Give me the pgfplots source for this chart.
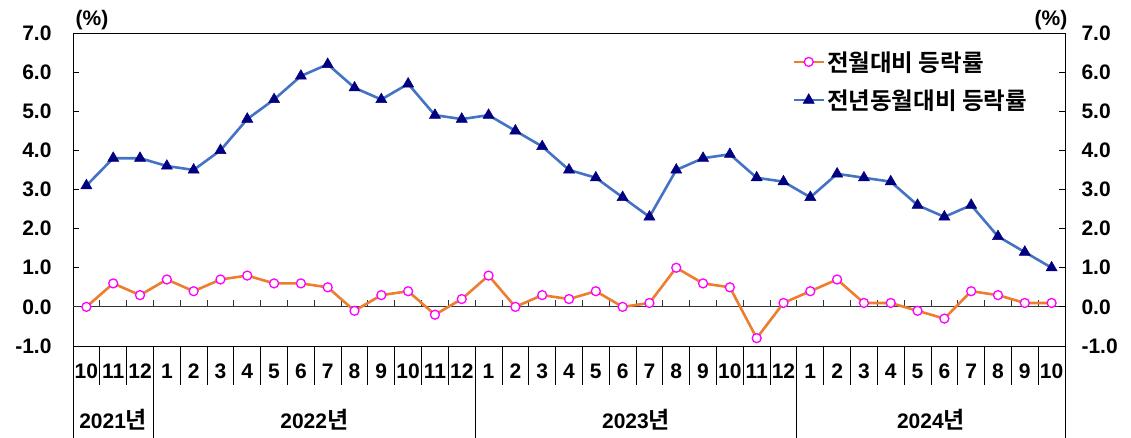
\documentclass[border=0pt]{standalone}
\usepackage{fontspec}
\setmainfont{Liberation Sans}
\newfontfamily\kr{Noto Sans CJK KR}[BoldFont={Noto Sans CJK KR Bold}]
\usepackage{pgfplots}
\usepackage{pgfplotstable}
\pgfplotsset{compat=1.18}
\definecolor{orangeline}{HTML}{ED7D31}
\definecolor{blueline}{HTML}{4472C4}
\definecolor{navy}{HTML}{000080}
\definecolor{mag}{HTML}{FF00FF}

\pgfplotstableread{
x mom yoy
0.5 0.0 3.1
1.5 0.6 3.8
2.5 0.3 3.8
3.5 0.7 3.6
4.5 0.4 3.5
5.5 0.7 4.0
6.5 0.8 4.8
7.5 0.6 5.3
8.5 0.6 5.9
9.5 0.5 6.2
10.5 -0.1 5.6
11.5 0.3 5.3
12.5 0.4 5.7
13.5 -0.2 4.9
14.5 0.2 4.8
15.5 0.8 4.9
16.5 0.0 4.5
17.5 0.3 4.1
18.5 0.2 3.5
19.5 0.4 3.3
20.5 0.0 2.8
21.5 0.1 2.3
22.5 1.0 3.5
23.5 0.6 3.8
24.5 0.5 3.9
25.5 -0.8 3.3
26.5 0.1 3.2
27.5 0.4 2.8
28.5 0.7 3.4
29.5 0.1 3.3
30.5 0.1 3.2
31.5 -0.1 2.6
32.5 -0.3 2.3
33.5 0.4 2.6
34.5 0.3 1.8
35.5 0.1 1.4
36.5 0.1 1.0
}\datatable

\newcommand{\numfont}{\bfseries\fontsize{21}{25}\selectfont}

\begin{document}
\begin{tikzpicture}
\useasboundingbox (0,0) rectangle (1131pt,438pt);
\begin{axis}[
  at={(73pt,92pt)}, anchor=south west,
  scale only axis, width=992pt, height=313pt,
  xmin=0, xmax=37, ymin=-1, ymax=7,
  clip=false,
  axis line style={black, line width=0.9pt},
  xtick=data,
  xticklabels={10,11,12,1,2,3,4,5,6,7,8,9,10,11,12,1,2,3,4,5,6,7,8,9,10,11,12,1,2,3,4,5,6,7,8,9,10},
  xtick style={draw=none},
  xticklabel style={anchor=base, yshift=-33pt, font=\numfont},
  ytick={-1,0,1,2,3,4,5,6,7},
  yticklabels={-1.0,0.0,1.0,2.0,3.0,4.0,5.0,6.0,7.0},
  ytick pos=left,
  tick align=inside, major tick length=6pt,
  ytick style={black, line width=0.9pt},
  yticklabel style={font=\numfont, xshift=-18pt},
  legend style={draw=none, fill=none, at={(0.722,0.955)}, anchor=north west,
    font=\kr\bfseries\fontsize{23.5}{27}\selectfont, row sep=13pt},
  legend cell align=left,
  legend image code/.code={\draw[mark repeat=2, mark phase=2, #1] plot coordinates {(0pt,0pt) (15pt,0pt) (30pt,0pt)};},
]
% zero line and its small ticks
\draw[black!80, line width=0.9pt] (axis cs:0,0) -- (axis cs:37,0);
\pgfplotsinvokeforeach{1,...,36}{\draw[black!80, line width=0.9pt] (axis cs:#1,0) -- ([yshift=7pt]axis cs:#1,0);}
% separators below the plot
\pgfplotsinvokeforeach{1,2,4,5,6,7,8,9,10,11,12,13,14,16,17,18,19,20,21,22,23,24,25,26,28,29,30,31,32,33,34,35,36}{\draw[black, line width=0.9pt] (axis cs:#1,-1) -- ([yshift=-39pt]axis cs:#1,-1);}
\pgfplotsinvokeforeach{0,3,15,27,37}{\draw[black, line width=0.9pt] (axis cs:#1,-1) -- ([yshift=-92pt]axis cs:#1,-1);}

\addplot[orangeline, line width=2.6pt, mark=*, mark size=4.5pt,
  mark options={draw=mag, fill=white, line width=1.3pt}]
  table[x=x, y=mom]{\datatable};
\addlegendentry{전월대비 등락률}
\addplot[blueline, line width=2.6pt, mark=triangle*, mark size=6.4pt,
  mark options={draw=navy, fill=navy, line width=0.5pt}]
  table[x=x, y=yoy]{\datatable};
\addlegendentry{전년동월대비 등락률}

\node[font=\numfont] at ([yshift=-74pt]axis cs:1.5,-1) {2021{\kr\fontsize{23}{27}\selectfont 년}};
\node[font=\numfont] at ([yshift=-74pt]axis cs:9,-1) {2022{\kr\fontsize{23}{27}\selectfont 년}};
\node[font=\numfont] at ([yshift=-74pt]axis cs:21,-1) {2023{\kr\fontsize{23}{27}\selectfont 년}};
\node[font=\numfont] at ([yshift=-74pt]axis cs:32,-1) {2024{\kr\fontsize{23}{27}\selectfont 년}};
\end{axis}

\begin{axis}[
  at={(73pt,92pt)}, anchor=south west,
  scale only axis, width=992pt, height=313pt,
  xmin=0, xmax=37, ymin=-1, ymax=7,
  axis x line=none, axis y line*=right,
  axis line style={black, line width=0.9pt},
  ytick={-1,0,1,2,3,4,5,6,7},
  yticklabels={-1.0,0.0,1.0,2.0,3.0,4.0,5.0,6.0,7.0},
  tick align=inside, major tick length=6pt,
  ytick style={black, line width=0.9pt},
  yticklabel style={font=\numfont, xshift=13pt},
]
\addplot[draw=none] coordinates {(0,0)};
\end{axis}

\node[font=\numfont] at (92pt,418pt) {(\%)};
\node[font=\numfont] at (1051pt,418pt) {(\%)};
\end{tikzpicture}
\end{document}
